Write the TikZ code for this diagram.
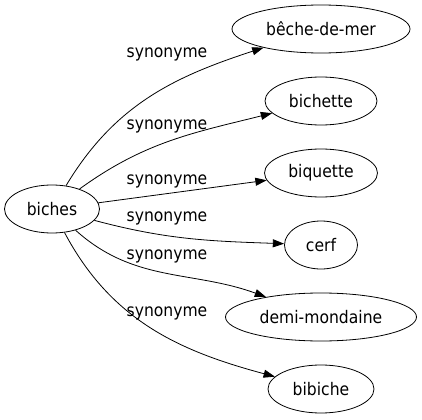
\documentclass[tikz,border=0pt]{standalone}
\usepackage{fontspec}
\setmainfont{DejaVu Sans Condensed}
\usetikzlibrary{shapes.geometric,arrows.meta}
\begin{document}
\begin{tikzpicture}[x=0.75pt,y=0.75pt,
  word/.style={ellipse,draw,line width=0.6pt,inner sep=0pt,minimum height=36pt,
    font=\fontsize{13pt}{15pt}\selectfont},
  rel/.style={inner sep=0pt,font=\fontsize{13pt}{15pt}\selectfont},
  edge/.style={line width=0.6pt,-{Triangle[length=8.5pt,width=6pt]}}]
\useasboundingbox (0,0) rectangle (422,419);
\node[word,minimum width=71.25pt] (biches) at (52,210) {biches};
\node[word,minimum width=133.5pt] (beche) at (321,390) {bêche-de-mer};
\node[word,minimum width=84pt] (bichette) at (321,318) {bichette};
\node[word,minimum width=84.75pt] (biquette) at (321,246) {biquette};
\node[word,minimum width=54.75pt] (cerf) at (321,174) {cerf};
\node[word,minimum width=143.25pt] (demi) at (321,102) {demi-mondaine};
\node[word,minimum width=79.5pt] (bibiche) at (321,30) {bibiche};
\node[rel] (l1) at (167,365) {synonyme};
\node[rel] (l2) at (167,293) {synonyme};
\node[rel] (l3) at (167,238) {synonyme};
\node[rel] (l4) at (167,201) {synonyme};
\node[rel] (l5) at (167,163) {synonyme};
\node[rel] (l6) at (167,106) {synonyme};
\draw[edge] (biches) to[out=59,in=198] (beche);
\draw[edge] (biches) to[out=36,in=194] (bichette);
\draw[edge] (biches) -- (biquette);
\draw[edge] (biches) to[out=-15,in=178] (cerf);
\draw[edge] (biches) to[out=-42,in=160] (demi);
\draw[edge] (biches) to[out=-62,in=165] (bibiche);
\end{tikzpicture}
\end{document}
